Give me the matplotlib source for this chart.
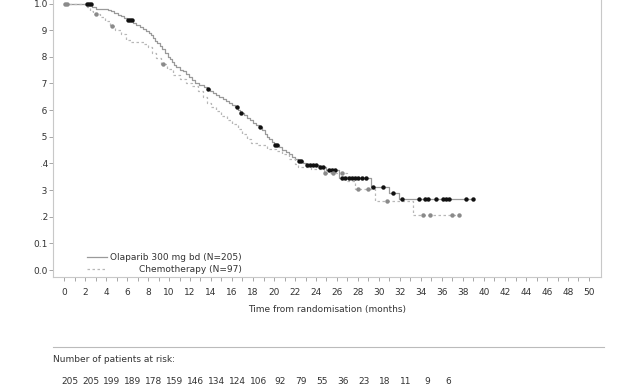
import numpy as np
import matplotlib
matplotlib.use("Agg")
import matplotlib.pyplot as plt
from matplotlib.lines import Line2D
from matplotlib.patches import Rectangle
from matplotlib.transforms import blended_transform_factory

# Kaplan-Meier steps (months, survival)
ola_t = [0, 2.7, 3.0, 4.2, 4.5, 4.8, 5.1, 5.4, 5.7, 6.0, 6.6, 6.9, 7.2, 7.5, 7.8,
         8.1, 8.3, 8.5, 8.7, 8.9, 9.1, 9.3, 9.6, 9.9, 10.1, 10.3, 10.5, 10.7,
         11.0, 11.3, 11.6, 11.9, 12.2, 12.5, 12.9, 13.3, 13.6, 13.9, 14.2, 14.5,
         14.8, 15.1, 15.4, 15.7, 16.0, 16.3, 16.6, 16.8, 17.1, 17.4, 17.7, 18.0,
         18.3, 18.6, 18.9, 19.1, 19.3, 19.5, 19.8, 20.0, 20.5, 20.8, 21.1, 21.4,
         21.7, 22.0, 22.3, 22.8, 23.0, 24.3, 25.0, 26.2, 29.2, 31.0, 31.9, 39.0]
ola_s = [1.0, 0.985, 0.980, 0.975, 0.970, 0.965, 0.958, 0.952, 0.945, 0.938,
         0.926, 0.920, 0.912, 0.905, 0.898, 0.890, 0.880, 0.870, 0.860, 0.850,
         0.840, 0.830, 0.815, 0.800, 0.790, 0.780, 0.770, 0.760, 0.752, 0.745,
         0.735, 0.725, 0.712, 0.700, 0.694, 0.686, 0.678, 0.672, 0.665, 0.658,
         0.650, 0.643, 0.635, 0.628, 0.620, 0.610, 0.600, 0.590, 0.580, 0.570,
         0.562, 0.553, 0.545, 0.536, 0.525, 0.512, 0.500, 0.490, 0.480, 0.470,
         0.460, 0.452, 0.444, 0.435, 0.425, 0.418, 0.409, 0.400, 0.394, 0.385,
         0.375, 0.345, 0.311, 0.289, 0.266, 0.266]
ola_cens = [2.2, 2.4, 2.6, 6.1, 6.3, 6.5, 13.7, 16.5, 16.9, 18.7, 20.1, 20.3,
            22.4, 22.6, 23.1, 23.4, 23.7, 24.0, 24.4, 24.7, 25.2, 25.5, 25.8,
            26.5, 26.8, 27.1, 27.4, 27.7, 28.0, 28.4, 28.8, 29.4, 30.4, 31.3,
            32.2, 33.8, 34.4, 34.7, 35.4, 36.1, 36.4, 36.7, 38.3, 39.0]

chemo_t = [0, 2.2, 2.5, 2.8, 3.4, 3.9, 4.4, 4.9, 5.4, 5.9, 6.4, 7.6, 8.0, 8.4,
           8.8, 9.2, 9.8, 10.4, 11.0, 11.6, 12.2, 12.8, 13.2, 13.6, 14.0, 14.5,
           15.0, 15.5, 16.0, 16.6, 17.0, 17.4, 17.8, 18.5, 19.3, 20.2, 20.8,
           21.4, 22.0, 22.3, 23.5, 24.8, 27.0, 27.7, 29.6, 33.2, 37.7]
chemo_s = [1.0, 0.985, 0.970, 0.959, 0.948, 0.935, 0.915, 0.900, 0.885, 0.862,
           0.855, 0.848, 0.835, 0.815, 0.795, 0.773, 0.755, 0.730, 0.715, 0.703,
           0.690, 0.670, 0.648, 0.628, 0.610, 0.595, 0.578, 0.562, 0.548, 0.530,
           0.510, 0.492, 0.478, 0.468, 0.455, 0.448, 0.435, 0.415, 0.398, 0.387,
           0.380, 0.364, 0.335, 0.304, 0.259, 0.206, 0.206]
chemo_cens = [0.1, 0.3, 3.0, 4.6, 9.4, 24.9, 25.6, 26.5, 28.0, 29.0, 30.8,
              34.2, 34.9, 37.0, 37.6]

risk_times = list(range(0, 38, 2))
ola_risk = [205, 205, 199, 189, 178, 159, 146, 134, 124, 106, 92, 79, 55, 36,
            23, 18, 11, 9, 6]

x_ticks = list(range(0, 51, 2))
y_ticks = [0.0, 0.1, 0.2, 0.3, 0.4, 0.5, 0.6, 0.7, 0.8, 0.9, 1.0]

TXT = "#333333"
plt.rcParams["font.family"] = ["DejaVu Sans"]
plt.rcParams["font.size"] = 6.5

W, H = 621, 387
fig = plt.figure(figsize=(W / 100, H / 100), dpi=100)
ax = fig.add_axes([53 / W, (H - 277) / H, 548 / W, 277 / H])


def km_at(times, surv, t):
    idx = np.searchsorted(times, t, side="right") - 1
    return np.asarray(surv)[idx]


ax.step(ola_t, ola_s, where="post", color="#9a9a9a", lw=0.9)
ax.step(chemo_t, chemo_s, where="post", color="#b8b8b8", lw=0.9,
        linestyle=(0, (2.0, 2.0)))
ax.plot(ola_cens, km_at(ola_t, ola_s, ola_cens), "o", color="#111111",
        ms=3.2, mec="none")
ax.plot(chemo_cens, km_at(chemo_t, chemo_s, chemo_cens), "o",
        color="#8a8a8a", ms=3.2, mec="none")

ax.set_xlim(-11 / 10.5, 50 + 12 / 10.5)
ax.set_ylim(-7 / 266.5, 1 + 3.5 / 266.5)
ax.set_xticks(x_ticks)
ax.set_xticks(np.arange(0, 51, 1), minor=True)
ax.set_yticks(y_ticks)
ax.set_yticklabels([f"{v:.1f}" for v in y_ticks])
ax.tick_params(axis="both", which="both", direction="out", length=3,
               width=0.6, color="#999999", labelcolor=TXT, labelsize=6.5)
ax.tick_params(axis="x", pad=5)
ax.tick_params(axis="y", pad=0.5)
for side in ["left", "right", "bottom"]:
    ax.spines[side].set_color("#c8c8c8")
    ax.spines[side].set_linewidth(0.8)
ax.spines["top"].set_visible(False)
ax.set_xlabel("Time from randomisation (months)", color=TXT, fontsize=6.5,
              labelpad=6)

# legend drawn as in the original (labels right aligned)
ax.add_line(Line2D([34 / 548, 54 / 548], [20 / 277, 20 / 277],
                   transform=ax.transAxes, color="#9a9a9a", lw=0.9))
ax.add_line(Line2D([34 / 548, 54 / 548], [8 / 277, 8 / 277],
                   transform=ax.transAxes, color="#b8b8b8", lw=0.9,
                   linestyle=(0, (2.0, 2.0))))
ax.text(189 / 548, 20 / 277, "Olaparib 300 mg bd (N=205)", transform=ax.transAxes,
        ha="right", va="center", color=TXT, fontsize=6.5)
ax.text(189 / 548, 8 / 277, "Chemotherapy (N=97)", transform=ax.transAxes,
        ha="right", va="center", color=TXT, fontsize=6.5)

# white mask over the clipped leading zeros of the middle y labels
fig.patches.append(Rectangle((28 / W, (H - 225) / H), 12 / W, 205 / H,
                             transform=fig.transFigure, color="white", zorder=5))

# risk table
fig.add_artist(Line2D([53 / W, 604 / W], [(H - 347) / H, (H - 347) / H],
                      transform=fig.transFigure, color="#bbbbbb", lw=0.8))
fig.text(53 / W, (H - 359) / H, "Number of patients at risk:", ha="left",
         va="center", color=TXT, fontsize=6.5)
tr = blended_transform_factory(ax.transData, fig.transFigure)
for t, n in zip(risk_times, ola_risk):
    ax.text(t + 0.55, (H - 377) / H, str(n), transform=tr, ha="center",
            va="top", color=TXT, fontsize=6.5, clip_on=False)

fig.savefig("out.png", dpi=100, facecolor="white")
